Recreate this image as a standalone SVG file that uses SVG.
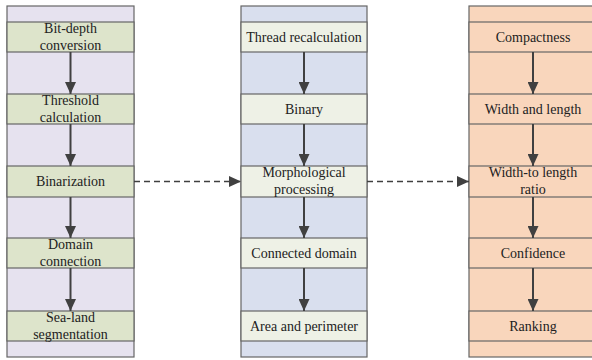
<svg xmlns="http://www.w3.org/2000/svg" width="592" height="360" viewBox="0 0 592 360">
<defs>
<marker id="ah2" viewBox="0 0 12 11" refX="12" refY="5.5" markerWidth="12" markerHeight="11" markerUnits="userSpaceOnUse" orient="auto"><path d="M0,0 L12,5.5 L0,11 Z" fill="#404040"/></marker>
</defs>
<style>
.t text{font-family:"Liberation Serif","Times New Roman",serif;font-size:14px;fill:#222;text-anchor:middle}
.col{stroke:#666;stroke-width:1.2}
.bx{stroke:#666;stroke-width:1.2}
.c1{fill:#E6E2EF}.b1{fill:#DDE4CB}
.c2{fill:#D9DFEE}.b2{fill:#EEF1E6}
.c3{fill:#F9D6BC}.b3{fill:#F9D6BC}
.ar{stroke:#404040;stroke-width:2;fill:none}
.da{stroke:#404040;stroke-width:1.5;stroke-dasharray:6 4;fill:none}
</style>
<g id="col1">
<rect class="col c1" x="7" y="6" width="127" height="351"/>
</g>
<g id="col2">
<rect class="col c2" x="241" y="6" width="126" height="351"/>
</g>
<g id="col3">
<rect class="col c3" x="469" y="6" width="128" height="351"/>
</g>
<g class="t">
<g id="n1"><rect class="bx b1" x="7" y="22" width="127" height="30"/><text x="70.5" y="33">Bit-depth</text><text x="70.5" y="50">conversion</text></g>
<g id="n2"><rect class="bx b1" x="7" y="94" width="127" height="30"/><text x="70.5" y="105">Threshold</text><text x="70.5" y="122">calculation</text></g>
<g id="n3"><rect class="bx b1" x="7" y="166" width="127" height="31"/><text x="70.5" y="186">Binarization</text></g>
<g id="n4"><rect class="bx b1" x="7" y="238" width="127" height="30"/><text x="70.5" y="249">Domain</text><text x="70.5" y="266">connection</text></g>
<g id="n5"><rect class="bx b1" x="7" y="311" width="127" height="30"/><text x="70.5" y="322">Sea-land</text><text x="70.5" y="339">segmentation</text></g>
<g id="m1"><rect class="bx b2" x="241" y="22" width="126" height="30"/><text x="304" y="41.5">Thread recalculation</text></g>
<g id="m2"><rect class="bx b2" x="241" y="94" width="126" height="30"/><text x="304" y="113.5">Binary</text></g>
<g id="m3"><rect class="bx b2" x="241" y="166" width="126" height="31"/><text x="304" y="177">Morphological</text><text x="304" y="193.5">processing</text></g>
<g id="m4"><rect class="bx b2" x="241" y="238" width="126" height="30"/><text x="304" y="257.5">Connected domain</text></g>
<g id="m5"><rect class="bx b2" x="241" y="311" width="126" height="30"/><text x="304" y="330.5">Area and perimeter</text></g>
<g id="r1"><rect class="bx b3" x="469" y="22" width="128" height="30"/><text x="533" y="41.5">Compactness</text></g>
<g id="r2"><rect class="bx b3" x="469" y="94" width="128" height="30"/><text x="533" y="113.5">Width and length</text></g>
<g id="r3"><rect class="bx b3" x="469" y="166" width="128" height="31"/><text x="533" y="177">Width-to length</text><text x="533" y="193.5">ratio</text></g>
<g id="r4"><rect class="bx b3" x="469" y="238" width="128" height="30"/><text x="533" y="257.5">Confidence</text></g>
<g id="r5"><rect class="bx b3" x="469" y="311" width="128" height="30"/><text x="533" y="330.5">Ranking</text></g>
</g>
<g id="connectors">
<path class="ar" d="M70.5,52 V94" marker-end="url(#ah2)"/>
<path class="ar" d="M70.5,124 V166" marker-end="url(#ah2)"/>
<path class="ar" d="M70.5,197 V238" marker-end="url(#ah2)"/>
<path class="ar" d="M70.5,268 V311" marker-end="url(#ah2)"/>
<path class="ar" d="M304,52 V94" marker-end="url(#ah2)"/>
<path class="ar" d="M304,124 V166" marker-end="url(#ah2)"/>
<path class="ar" d="M304,197 V238" marker-end="url(#ah2)"/>
<path class="ar" d="M304,268 V311" marker-end="url(#ah2)"/>
<path class="ar" d="M533,52 V94" marker-end="url(#ah2)"/>
<path class="ar" d="M533,124 V166" marker-end="url(#ah2)"/>
<path class="ar" d="M533,197 V238" marker-end="url(#ah2)"/>
<path class="ar" d="M533,268 V311" marker-end="url(#ah2)"/>
<path class="da" d="M134,181.5 H241" marker-end="url(#ah2)"/>
<path class="da" d="M367,181.5 H469" marker-end="url(#ah2)"/>
</g>
</svg>
